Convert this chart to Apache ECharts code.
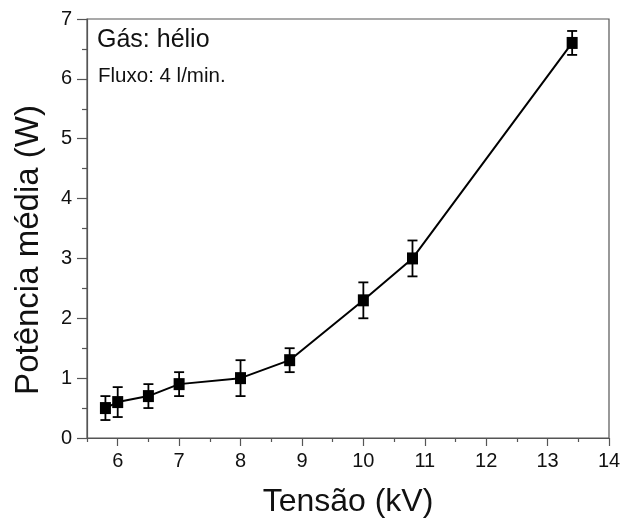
<!DOCTYPE html>
<html>
<head>
<meta charset="utf-8">
<script src="https://cdn.jsdelivr.net/npm/echarts@6/dist/echarts.min.js"></script>
<style>
  html, body { margin: 0; padding: 0; background: #fff; }
  #chart { width: 624px; height: 527px; }
</style>
</head>
<body>
<div id="chart"></div>
<script>
// Tensão (kV), potência média (W) e barra de erro
const tensao = [5.8, 6.0, 6.5, 7.0, 8.0, 8.8, 10.0, 10.8, 13.4];
const potencia = [0.5, 0.6, 0.7, 0.9, 1.0, 1.3, 2.3, 3.0, 6.6];
const erro = [0.2, 0.25, 0.2, 0.2, 0.3, 0.2, 0.3, 0.3, 0.2];

// ticks do eixo x
const xMajor = [6, 7, 8, 9, 10, 11, 12, 13, 14];
const xMinor = [5.5, 6.5, 7.5, 8.5, 9.5, 10.5, 11.5, 12.5, 13.5];

const myChart = echarts.init(document.getElementById("chart"), null, { renderer: "canvas" });

const font = "Liberation Sans, Arial, sans-serif";
const axisColor = "#555";

const points = tensao.map((x, i) => [x, potencia[i]]);
const bars = tensao.map((x, i) => [x, potencia[i] - erro[i], potencia[i] + erro[i]]);

const option = {
  animation: false,
  backgroundColor: "#fff",
  grid: {
    left: 87,
    right: 15,
    top: 19,
    bottom: 89,
    show: true,
    borderColor: axisColor,
    borderWidth: 1.2,
  },
  xAxis: [
    {
      type: "value",
      min: 5.5,
      max: 14,
      interval: 0.5,
      name: "Tensão (kV)",
      nameLocation: "middle",
      nameGap: 48,
      nameTextStyle: { fontFamily: font, fontSize: 32, color: "#111" },
      axisLine: { show: true, lineStyle: { color: axisColor, width: 1.2 } },
      axisTick: { show: true, length: 8, customValues: xMajor, lineStyle: { color: axisColor, width: 1.2 } },
      axisLabel: {
        fontFamily: font,
        fontSize: 20,
        color: "#111",
        margin: 13,
        customValues: xMajor,
      },
      splitLine: { show: false },
    },
    {
      // só os ticks menores
      type: "value",
      min: 5.5,
      max: 14,
      interval: 0.5,
      position: "bottom",
      axisLine: { show: false },
      axisTick: { show: true, length: 4, customValues: xMinor, lineStyle: { color: axisColor, width: 1.2 } },
      axisLabel: { show: false },
      splitLine: { show: false },
    },
  ],
  yAxis: {
    type: "value",
    min: 0,
    max: 7,
    interval: 1,
    axisLine: { show: true, lineStyle: { color: axisColor, width: 1.2 } },
    axisTick: { show: true, length: 10, lineStyle: { color: axisColor, width: 1.2 } },
    minorTick: { show: true, splitNumber: 2, length: 5, lineStyle: { color: axisColor, width: 1.2 } },
    axisLabel: { fontFamily: font, fontSize: 20, color: "#111", margin: 15 },
    splitLine: { show: false },
  },
  series: [
    {
      type: "line",
      data: points,
      symbol: "rect",
      symbolSize: [11, 12],
      itemStyle: { color: "#000" },
      lineStyle: { color: "#000", width: 2 },
      z: 3,
    },
    {
      type: "custom",
      data: bars,
      z: 2,
      renderItem: (params, api) => {
        const x = api.value(0);
        const lo = api.coord([x, api.value(1)]);
        const hi = api.coord([x, api.value(2)]);
        const w = 5;
        const style = { stroke: "#000", lineWidth: 1.8 };
        return {
          type: "group",
          children: [
            { type: "line", shape: { x1: lo[0], y1: lo[1], x2: hi[0], y2: hi[1] }, style },
            { type: "line", shape: { x1: lo[0] - w, y1: lo[1], x2: lo[0] + w, y2: lo[1] }, style },
            { type: "line", shape: { x1: hi[0] - w, y1: hi[1], x2: hi[0] + w, y2: hi[1] }, style },
          ],
        };
      },
    },
  ],
  graphic: [
    {
      type: "text",
      x: 29,
      y: 250,
      rotation: Math.PI / 2,
      style: {
        text: "Potência média (W)",
        fontFamily: font,
        fontSize: 33,
        fill: "#111",
        align: "center",
        verticalAlign: "middle",
      },
    },
    {
      type: "text",
      left: 97,
      top: 28,
      style: { text: "Gás: hélio", fontFamily: font, fontSize: 25, fill: "#111" },
    },
    {
      type: "text",
      left: 98,
      top: 66,
      style: { text: "Fluxo: 4 l/min.", fontFamily: font, fontSize: 20.5, fill: "#111" },
    },
  ],
};

myChart.setOption(option);
</script>
</body>
</html>
